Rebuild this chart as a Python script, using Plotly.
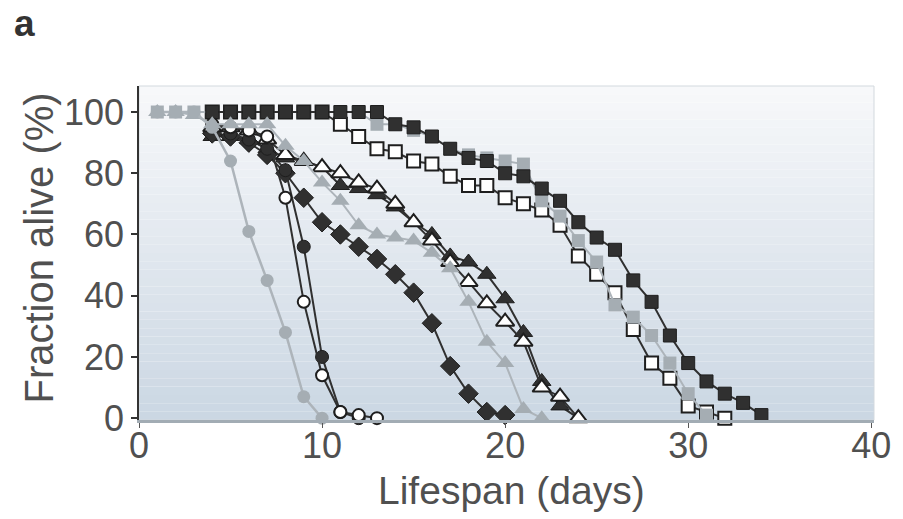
import plotly.graph_objects as go

# ---------------- data ----------------
gray_circle_days = list(range(1, 11))
gray_circle_vals = [100, 100, 100, 95, 84, 61, 45, 28, 7, 0]

black_circle_days = list(range(4, 13))
black_circle_vals = [95, 93, 91, 88, 81, 56, 20, 2, 0]

open_circle_days = list(range(4, 14))
open_circle_vals = [96, 95, 94, 92, 72, 38, 14, 2, 1, 0]

black_diamond_days = list(range(4, 21))
black_diamond_vals = [93, 92, 90, 86, 80, 72, 64, 60, 56, 52, 47, 41, 31, 17, 8, 2, 1]

gray_triangle_days = list(range(1, 23))
gray_triangle_vals = [100, 100, 99, 96, 96, 96, 96, 89, 84, 77, 71, 63, 60, 59, 58, 54, 49, 38, 25, 18, 3, 0]

black_triangle_days = list(range(4, 25))
black_triangle_vals = [92, 92, 91, 88, 85, 84, 82, 76, 75, 73, 69, 64, 60, 53, 51, 47, 39, 28, 12, 4, 0]

open_triangle_days = list(range(4, 25))
open_triangle_vals = [95, 95, 94, 91, 86, 84, 82, 80, 77, 75, 70, 64, 58, 51, 44.5, 37.5, 31.5, 25, 10, 7, 0]

gray_square_days = list(range(1, 32))
gray_square_vals = [100] * 12 + [96, 96, 94, 92, 88, 86, 85, 84, 83, 71, 66, 58, 51, 37, 33, 27, 18, 8, 1]

open_square_days = list(range(4, 33))
open_square_vals = [100] * 7 + [96, 92, 88, 87, 84, 83, 79, 76, 76, 72, 70, 68, 63, 53, 47, 41, 29, 18, 13, 4, 2, 0]

black_square_days = list(range(4, 35))
black_square_vals = [100] * 10 + [96, 95, 92, 88, 85, 84, 80, 79, 75, 71, 64, 59, 55, 45, 38, 27, 18, 12, 8, 5, 1]

x_ticks = [0, 10, 20, 30, 40]
y_ticks = [0, 20, 40, 60, 80, 100]

# ---------------- styles ----------------
DARK = "#303030"
EDGE = "#1e1e1e"
GRAY = "#a5adb3"
GRAY_LINE = "#adb4ba"
TEXT = "#505050"

fig = go.Figure()


def add(days, vals, symbol, size, fill, edge, edge_w, line_color, line_w):
    fig.add_trace(go.Scatter(
        x=days, y=vals, mode="lines+markers",
        line=dict(color=line_color, width=line_w),
        marker=dict(symbol=symbol, size=size, color=fill,
                    line=dict(color=edge, width=edge_w)),
        showlegend=False, hoverinfo="x+y", cliponaxis=False,
    ))


# drawing order (bottom -> top)
add(open_square_days, open_square_vals, "square", 13, "white", EDGE, 2, DARK, 2)
add(gray_square_days, gray_square_vals, "square", 13, GRAY, GRAY, 0, GRAY_LINE, 2)
add(black_square_days, black_square_vals, "square", 13, DARK, EDGE, 1, DARK, 2)
add(black_triangle_days, black_triangle_vals, "triangle-up", 16, DARK, EDGE, 1, DARK, 2)
add(black_diamond_days, black_diamond_vals, "diamond", 15, DARK, EDGE, 1, DARK, 2)
add(black_circle_days, black_circle_vals, "circle", 13, DARK, EDGE, 1, DARK, 2)
add(open_triangle_days, open_triangle_vals, "triangle-up", 16, "white", EDGE, 2, DARK, 2)
add(open_circle_days, open_circle_vals, "circle", 12, "white", EDGE, 2, DARK, 2)
add(gray_triangle_days, gray_triangle_vals, "triangle-up", 16, GRAY, GRAY, 0, GRAY_LINE, 2)
add(gray_circle_days, gray_circle_vals, "circle", 13, GRAY, GRAY, 0, GRAY_LINE, 2.5)

# ---------------- background gradient of plot area ----------------
shapes = []
n = 40
top = (247, 248, 250)
bot = (203, 215, 227)
for i in range(n):
    t = i / (n - 1)
    c = tuple(round(bot[k] + (top[k] - bot[k]) * t) for k in range(3))
    shapes.append(dict(type="rect", xref="x domain", yref="y domain",
                       x0=0, x1=1, y0=i / n, y1=(i + 1) / n,
                       fillcolor="rgb(%d,%d,%d)" % c, line=dict(width=0),
                       layer="below"))
shapes.append(dict(type="rect", xref="x domain", yref="y domain",
                   x0=0, x1=1, y0=0, y1=1, fillcolor="rgba(0,0,0,0)",
                   line=dict(color="#d3d9de", width=1), layer="below"))

FONT = "Liberation Sans, Arial, Helvetica, sans-serif"
PW, PH = 903 - 139 - 25, 519 - 86 - 99   # plot-area size in px

fig.update_layout(
    width=903, height=519,
    margin=dict(l=139, r=25, t=86, b=99),
    paper_bgcolor="white", plot_bgcolor="rgba(0,0,0,0)",
    shapes=shapes,
    font=dict(family=FONT, color=TEXT),
    xaxis=dict(
        range=[0, 40.15], tickvals=x_ticks, ticktext=[str(v) for v in x_ticks],
        showgrid=False, zeroline=False,
        showline=True, linecolor="#a2acb4", linewidth=3,
        ticks="outside", ticklen=5, tickcolor="#555", tickwidth=1,
        ticklabelstandoff=-13,
        tickfont=dict(size=36, color=TEXT),
    ),
    yaxis=dict(
        range=[-0.6, 108.5], tickvals=y_ticks, ticktext=[str(v) for v in y_ticks],
        showgrid=False, zeroline=False,
        showline=True, linecolor="#333", linewidth=1.5,
        ticks="outside", ticklen=6, tickcolor="#333", tickwidth=1.5,
        tickfont=dict(size=36, color=TEXT),
    ),
    annotations=[
        dict(text="<b>a</b>", xref="paper", yref="paper",
             x=-128 / PW, y=1 + 62 / PH, xanchor="left", yanchor="middle",
             showarrow=False, font=dict(size=37, color="#333", family=FONT)),
        dict(text="Lifespan (days)", xref="paper", yref="paper",
             x=(514 - 139) / PW, y=-(490 - 420) / PH, xanchor="center", yanchor="middle",
             showarrow=False, font=dict(size=39, color=TEXT, family=FONT)),
        dict(text="Fraction alive (%)", xref="paper", yref="paper", textangle=-90,
             x=-(139 - 38) / PW, y=(420 - 248) / PH, xanchor="center", yanchor="middle",
             showarrow=False, font=dict(size=40, color=TEXT, family=FONT)),
    ],
)

fig.write_html("out.html", config={"displayModeBar": False},
               post_script="document.body.style.margin='0px';")
